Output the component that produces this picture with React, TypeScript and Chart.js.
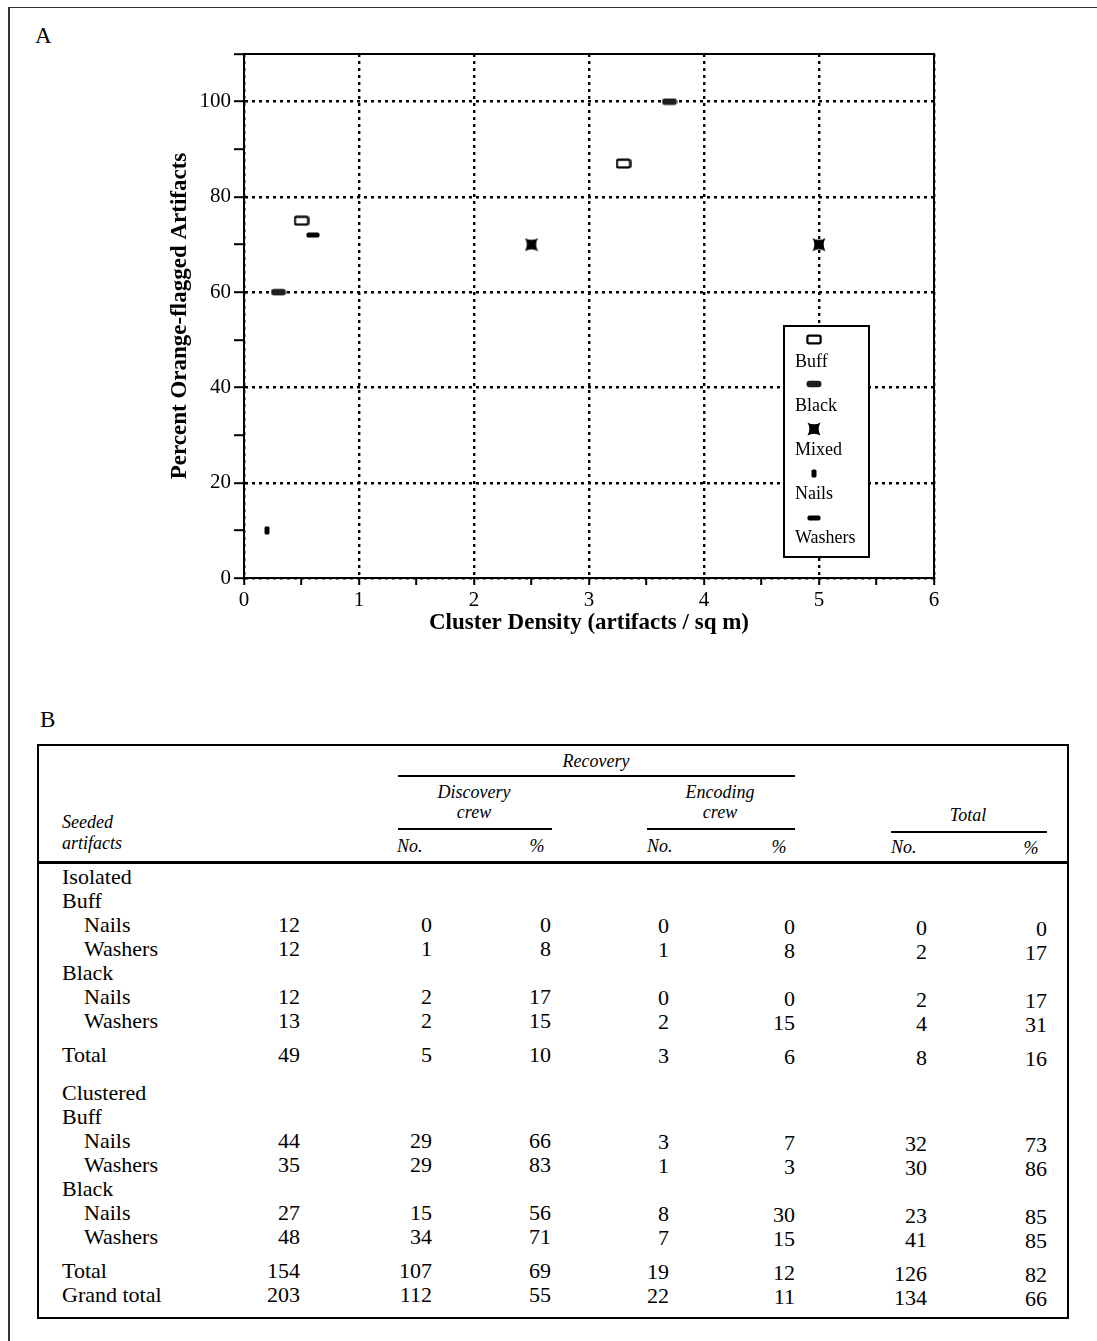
import React, { useEffect, useRef } from "react";
import { Chart, registerables } from "chart.js";

Chart.register(...registerables);

const SERIF = "'Liberation Serif', 'Times New Roman', Times, serif";
const W = 1097;
const H = 1341;

// ---------- Panel A data ----------
const xTickLabels = ["0", "1", "2", "3", "4", "5", "6"];
const yTickLabels = ["0", "20", "40", "60", "80", "100"];
const seriesNames = ["Buff", "Black", "Mixed", "Nails", "Washers"];
const buffX = [0.5, 3.3];
const buffY = [75, 87];
const blackX = [0.3, 3.7];
const blackY = [60, 100];
const mixedX = [2.5, 5.0];
const mixedY = [70, 70];
const nailsX = [0.2];
const nailsY = [10];
const washersX = [0.6];
const washersY = [72];
const xTitle = "Cluster Density (artifacts / sq m)";
const yTitle = "Percent Orange-flagged Artifacts";

// ---------- Panel B data ----------
const tableRowLabels = [
  "Isolated", "Buff", "Nails", "Washers", "Black", "Nails", "Washers", "Total",
  "Clustered", "Buff", "Nails", "Washers", "Black", "Nails", "Washers", "Total", "Grand total",
];
const tableRowIndent = [0, 0, 1, 1, 0, 1, 1, 0, 0, 0, 1, 1, 0, 1, 1, 0, 0];
const seededCounts = [null, null, 12, 12, null, 12, 13, 49, null, null, 44, 35, null, 27, 48, 154, 203];
const discoveryNo = [null, null, 0, 1, null, 2, 2, 5, null, null, 29, 29, null, 15, 34, 107, 112];
const discoveryPct = [null, null, 0, 8, null, 17, 15, 10, null, null, 66, 83, null, 56, 71, 69, 55];
const encodingNo = [null, null, 0, 1, null, 0, 2, 3, null, null, 3, 1, null, 8, 7, 19, 22];
const encodingPct = [null, null, 0, 8, null, 0, 15, 6, null, null, 7, 3, null, 30, 15, 12, 11];
const totalNo = [null, null, 0, 2, null, 2, 4, 8, null, null, 32, 30, null, 23, 41, 126, 134];
const totalPct = [null, null, 0, 17, null, 17, 31, 16, null, null, 73, 86, null, 85, 85, 82, 66];

// ---------- markers ----------
function rr(ctx: CanvasRenderingContext2D, x: number, y: number, w: number, h: number, r: number) {
  ctx.beginPath();
  ctx.moveTo(x + r, y);
  ctx.lineTo(x + w - r, y);
  ctx.quadraticCurveTo(x + w, y, x + w, y + r);
  ctx.lineTo(x + w, y + h - r);
  ctx.quadraticCurveTo(x + w, y + h, x + w - r, y + h);
  ctx.lineTo(x + r, y + h);
  ctx.quadraticCurveTo(x, y + h, x, y + h - r);
  ctx.lineTo(x, y + r);
  ctx.quadraticCurveTo(x, y, x + r, y);
  ctx.closePath();
}

function makeMarker(kind: string): HTMLCanvasElement {
  const c = document.createElement("canvas");
  if (kind === "Buff") { c.width = 16; c.height = 11; }
  else if (kind === "Black") { c.width = 16; c.height = 8; }
  else if (kind === "Mixed") { c.width = 14; c.height = 14; }
  else if (kind === "Nails") { c.width = 6; c.height = 9; }
  else { c.width = 14; c.height = 6; }
  const ctx = c.getContext("2d")!;
  ctx.fillStyle = "#000";
  ctx.strokeStyle = "#000";
  if (kind === "Buff") {
    ctx.lineWidth = 2.2;
    rr(ctx, 1.4, 1.6, 13.2, 7.8, 1.6);
    ctx.stroke();
  } else if (kind === "Black") {
    ctx.fillStyle = "#1e1e1e";
    rr(ctx, 0.5, 0.8, 15, 6.4, 3);
    ctx.fill();
  } else if (kind === "Mixed") {
    ctx.beginPath();
    ctx.moveTo(0.5, 0.5);
    ctx.quadraticCurveTo(7, 4.2, 13.5, 0.5);
    ctx.quadraticCurveTo(9.8, 7, 13.5, 13.5);
    ctx.quadraticCurveTo(7, 9.8, 0.5, 13.5);
    ctx.quadraticCurveTo(4.2, 7, 0.5, 0.5);
    ctx.closePath();
    ctx.fill();
  } else if (kind === "Nails") {
    rr(ctx, 0.5, 0.5, 5, 8, 1.5);
    ctx.fill();
  } else {
    rr(ctx, 0.5, 0.5, 13, 5, 1.8);
    ctx.fill();
  }
  return c;
}

const pts = (xs: number[], ys: number[]) => xs.map((x, i) => ({ x, y: ys[i] }));

// ---------- small layout helpers ----------
function Txt(props: {
  x: number; cy: number; align?: "left" | "right" | "center"; size?: number;
  italic?: boolean; bold?: boolean; children: React.ReactNode;
}) {
  const { x, cy, align = "left", size = 22, italic = false, bold = false, children } = props;
  const lh = 24;
  const style: React.CSSProperties = {
    position: "absolute", top: cy - lh / 2, lineHeight: lh + "px", fontSize: size,
    fontFamily: SERIF, fontStyle: italic ? "italic" : "normal", fontWeight: bold ? "bold" : "normal",
    whiteSpace: "nowrap", color: "#000",
  };
  if (align === "left") style.left = x;
  else if (align === "right") style.right = W - x;
  else { style.left = x - 150; style.width = 300; style.textAlign = "center"; }
  return <div style={style}>{children}</div>;
}

function HLine(props: { x1: number; x2: number; y: number; t?: number; color?: string }) {
  const t = props.t ?? 2;
  return (
    <div style={{ position: "absolute", left: props.x1, top: props.y - t / 2, width: props.x2 - props.x1, height: t, background: props.color ?? "#000" }} />
  );
}

export default function App() {
  const ref = useRef<HTMLCanvasElement>(null);

  useEffect(() => {
    if (!ref.current) return;
    const markers: Record<string, HTMLCanvasElement> = {};
    seriesNames.forEach((n) => (markers[n] = makeMarker(n)));

    const framePlugin = {
      id: "frameAndLegend",
      afterDraw(chart: any) {
        const { ctx, chartArea } = chart;
        const { left, top, right, bottom } = chartArea;
        ctx.save();
        ctx.strokeStyle = "#000";
        ctx.lineWidth = 2;
        ctx.strokeRect(left, top, right - left, bottom - top);
        // legend box
        const bx = left + 540, by = top + 272, bw = 85, bh = 231;
        ctx.fillStyle = "#fff";
        ctx.fillRect(bx, by, bw, bh);
        ctx.strokeRect(bx, by, bw, bh);
        ctx.fillStyle = "#000";
        ctx.font = `18px ${SERIF}`;
        ctx.textAlign = "left";
        ctx.textBaseline = "alphabetic";
        seriesNames.forEach((n, i) => {
          const m = markers[n];
          const cx = bx + 30, cy = by + 13.5 + i * 44.6;
          ctx.drawImage(m, Math.round(cx - m.width / 2), Math.round(cy - m.height / 2));
          ctx.fillText(n, bx + 11, by + 41 + i * 44);
        });
        ctx.restore();
      },
    };

    const tickFont = { family: SERIF, size: 21 };
    const titleFont = { family: SERIF, size: 23, weight: "bold" as const };

    const chart = new Chart(ref.current, {
      type: "scatter",
      data: {
        datasets: [
          { label: "Buff", data: pts(buffX, buffY), pointStyle: markers["Buff"] },
          { label: "Black", data: pts(blackX, blackY), pointStyle: markers["Black"] },
          { label: "Mixed", data: pts(mixedX, mixedY), pointStyle: markers["Mixed"] },
          { label: "Nails", data: pts(nailsX, nailsY), pointStyle: markers["Nails"] },
          { label: "Washers", data: pts(washersX, washersY), pointStyle: markers["Washers"] },
        ] as any,
      },
      options: {
        animation: false,
        responsive: false,
        maintainAspectRatio: false,
        events: [],
        layout: { padding: { left: 150, right: 163, top: 54, bottom: 12 } },
        plugins: { legend: { display: false }, tooltip: { enabled: false } },
        elements: { point: { radius: 4 } },
        scales: {
          x: {
            type: "linear",
            position: "bottom",
            min: 0,
            max: 6,
            afterFit: (s: any) => { s.height = 70; },
            ticks: {
              stepSize: 0.5,
              autoSkip: false,
              maxRotation: 0,
              color: "#000",
              font: tickFont,
              padding: 3,
              callback: (v: any) => (Number.isInteger(Number(v)) ? xTickLabels[Number(v)] : ""),
            },
            grid: {
              color: (c: any) => (Number.isInteger(c.tick?.value) ? "#000" : "rgba(0,0,0,0)"),
              lineWidth: 2.4,
              tickColor: "#000",
              tickLength: 7,
              tickWidth: 2,
            },
            border: { display: true, color: "#000", width: 2, dash: [3, 4] },
            title: { display: true, text: xTitle, color: "#000", font: titleFont, padding: { top: 0, bottom: 11 } },
          },
          y: {
            type: "linear",
            position: "left",
            min: 0,
            max: 110,
            afterFit: (s: any) => { s.width = 94; },
            ticks: {
              stepSize: 10,
              autoSkip: false,
              color: "#000",
              font: tickFont,
              padding: 3,
              callback: (v: any) => (Number(v) % 20 === 0 ? yTickLabels[Number(v) / 20] : ""),
            },
            grid: {
              color: (c: any) => (c.tick && c.tick.value % 20 === 0 ? "#000" : "rgba(0,0,0,0)"),
              lineWidth: 2.4,
              tickColor: "#000",
              tickLength: 10,
              tickWidth: 2,
            },
            border: { display: true, color: "#000", width: 2, dash: [3, 4] },
            title: { display: true, text: yTitle, color: "#000", font: titleFont, padding: { top: 16, bottom: 0 } },
          },
        },
      } as any,
      plugins: [framePlugin],
    });
    return () => chart.destroy();
  }, []);

  // table layout
  const colRight = [300, 432, 551, 669, 795, 927, 1047];
  const colDy = [0, 0, 0, 1, 2, 3, 4];
  const cols = [seededCounts, discoveryNo, discoveryPct, encodingNo, encodingPct, totalNo, totalPct];
  const rowY: number[] = [];
  let y = 877;
  tableRowLabels.forEach((lab, i) => {
    if (i > 0) {
      y += 24;
      if (lab === "Total") y += 10;
      if (lab === "Clustered") y += 14;
    }
    rowY.push(y);
  });

  return (
    <div style={{ position: "absolute", left: 0, top: 0, width: W, height: H, background: "#fff", overflow: "hidden" }}>
      {/* outer frame */}
      <HLine x1={9} x2={W} y={7.5} t={1.5} color="#333" />
      <div style={{ position: "absolute", left: 8, top: 7, width: 1.5, height: H - 7, background: "#333" }} />

      <Txt x={35} cy={36} size={23}>A</Txt>
      <canvas ref={ref} width={1097} height={660} style={{ position: "absolute", left: 0, top: 0 }} />

      <Txt x={40} cy={720} size={23}>B</Txt>
      {/* table box */}
      <div style={{ position: "absolute", left: 37, top: 744, width: 1069 - 37, height: 1319 - 744, border: "2px solid #000", boxSizing: "border-box" }} />

      {/* header */}
      <Txt x={596} cy={761} align="center" size={18} italic>Recovery</Txt>
      <HLine x1={398} x2={795} y={776} />
      <Txt x={474} cy={792} align="center" size={18} italic>Discovery</Txt>
      <Txt x={474} cy={812} align="center" size={18} italic>crew</Txt>
      <Txt x={720} cy={792} align="center" size={18} italic>Encoding</Txt>
      <Txt x={720} cy={812} align="center" size={18} italic>crew</Txt>
      <Txt x={968} cy={815} align="center" size={18} italic>Total</Txt>
      <HLine x1={398} x2={552} y={829} />
      <HLine x1={647} x2={795} y={829} />
      <HLine x1={891} x2={1047} y={832} />
      <Txt x={62} cy={822} size={18} italic>Seeded</Txt>
      <Txt x={62} cy={843} size={18} italic>artifacts</Txt>
      <Txt x={397} cy={846} size={18} italic>No.</Txt>
      <Txt x={537} cy={846} align="center" size={18} italic>%</Txt>
      <Txt x={647} cy={846} size={18} italic>No.</Txt>
      <Txt x={779} cy={847} align="center" size={18} italic>%</Txt>
      <Txt x={891} cy={847} size={18} italic>No.</Txt>
      <Txt x={1031} cy={848} align="center" size={18} italic>%</Txt>
      <HLine x1={37} x2={1069} y={862} t={3} />

      {/* body */}
      {tableRowLabels.map((lab, i) => (
        <React.Fragment key={i}>
          <Txt x={tableRowIndent[i] ? 84 : 62} cy={rowY[i]}>{lab}</Txt>
          {cols.map((col, j) =>
            col[i] === null ? null : (
              <Txt key={j} x={colRight[j]} cy={rowY[i] + colDy[j]} align="right">{String(col[i])}</Txt>
            )
          )}
        </React.Fragment>
      ))}
    </div>
  );
}
